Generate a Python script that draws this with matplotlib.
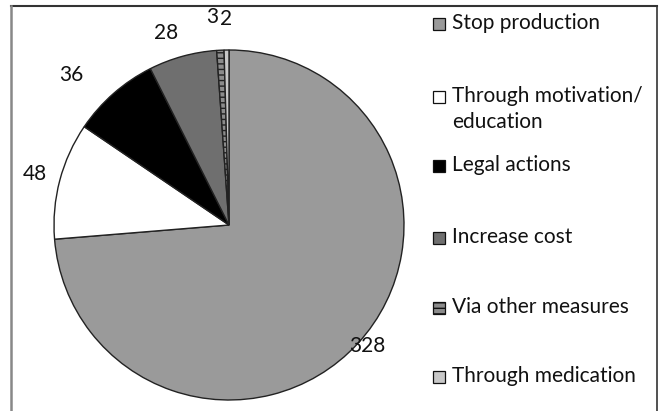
import numpy as np
import matplotlib.pyplot as plt
from matplotlib.patches import Rectangle
from matplotlib.lines import Line2D

plt.rcParams['font.family'] = ['Lato', 'DejaVu Sans']

labels = ['Stop production', 'Through motivation/\neducation', 'Legal actions',
          'Increase cost', 'Via other measures', 'Through medication']
counts = [328, 48, 36, 28, 3, 2]
colors = ['#9a9a9a', '#ffffff', '#000000', '#6f6f6f', '#8c8c8c', '#c8c8c8']
hatches = [None, None, None, None, '---', None]
# value label placement: distance from centre (pie radii) plus small nudges
label_dist = [1.05, 1.15, 1.23, 1.14, 1.19, 1.18]
label_dx = [0.02, 0, -0.09, -0.057, -0.035, 0.0]
label_dy = [0.02, 0, -0.067, 0, 0, 0]

W, H = 659, 411
fig = plt.figure(figsize=(W / 100, H / 100), dpi=100)

# pie centred at (229, 225) px, radius 175 px
cx, cy, r = 229, 225, 175
ax = fig.add_axes([(cx - r) / W, (H - cy - r) / H, 2 * r / W, 2 * r / H])
wedges, _ = ax.pie(counts, colors=colors, startangle=90, counterclock=False,
                   wedgeprops=dict(edgecolor='#222222', linewidth=1.0))
for w, h in zip(wedges, hatches):
    if h:
        w.set_hatch(h)
ax.set_xlim(-1, 1)
ax.set_ylim(-1, 1)
ax.set_aspect('equal')
ax.axis('off')

for w, v, d, sx, sy in zip(wedges, counts, label_dist, label_dx, label_dy):
    ang = np.deg2rad((w.theta1 + w.theta2) / 2)
    ax.text(d * np.cos(ang) + sx, d * np.sin(ang) + sy, str(v), ha='center',
            va='center', fontsize=15, color='#111111', clip_on=False)

# legend drawn in pixel positions
rows = [24, 97, 166, 238, 308, 377]
for lab, c, h, y in zip(labels, colors, hatches, rows):
    fig.patches.append(Rectangle((433 / W, 1 - (y + 6) / H), 12 / W, 12 / H,
                                 transform=fig.transFigure, facecolor=c,
                                 edgecolor='#111111', linewidth=0.9, hatch=h))
    fig.text(452 / W, 1 - (y - 11) / H, lab, ha='left', va='top', fontsize=15,
             color='#111111', linespacing=1.38)

# outer frame (top, left, right)
fig.lines.append(Line2D([10.5 / W, 656.5 / W], [1 - 6.5 / H, 1 - 6.5 / H],
                        transform=fig.transFigure, color='#333333', linewidth=1.5))
fig.lines.append(Line2D([10.5 / W, 10.5 / W], [0, 1 - 6.5 / H],
                        transform=fig.transFigure, color='#888888', linewidth=1.8))
fig.lines.append(Line2D([656.5 / W, 656.5 / W], [0, 1 - 6.5 / H],
                        transform=fig.transFigure, color='#333333', linewidth=1.2))

fig.savefig('out.png', dpi=100)
